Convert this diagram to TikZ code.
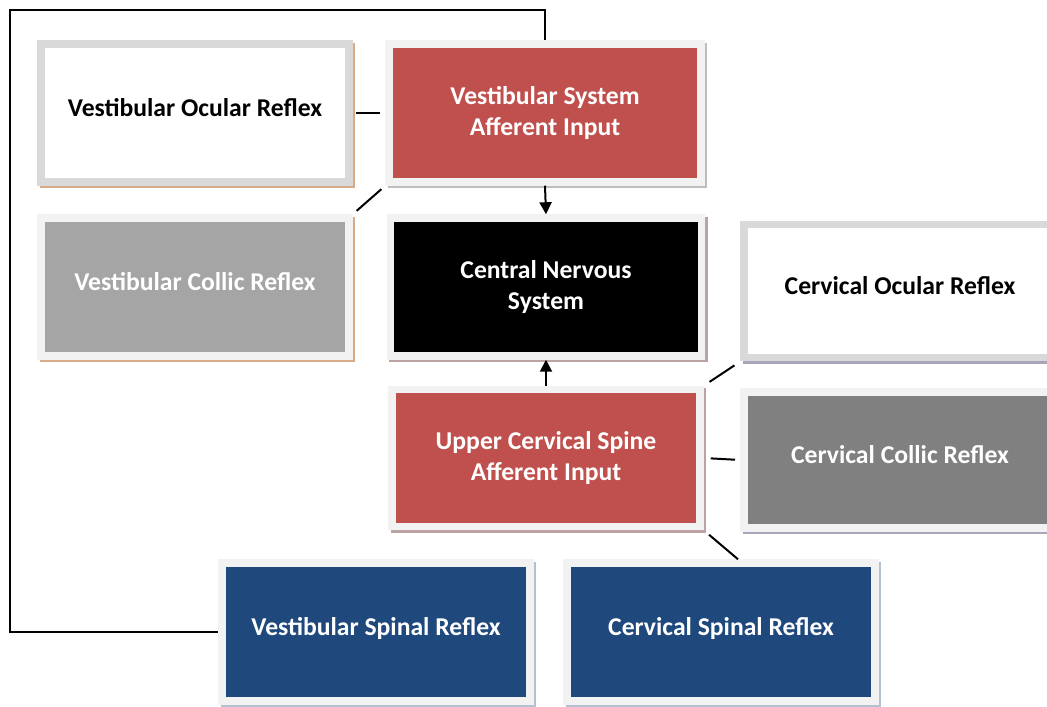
\documentclass[tikz,border=0pt]{standalone}
\usepackage{fontspec}
\setmainfont{Carlito}
\usetikzlibrary{shadows,calc,arrows.meta}
\usepackage{xcolor}

\definecolor{redbox}{HTML}{C0504D}
\definecolor{bluebox}{HTML}{1F497D}
\definecolor{lightgraybox}{HTML}{A5A5A5}
\definecolor{darkgraybox}{HTML}{808080}
\definecolor{framelight}{HTML}{F2F2F2}
\definecolor{framedark}{HTML}{D9D9D9}
\definecolor{shadetan}{HTML}{D7AA88}
\definecolor{shadegray}{HTML}{BDBDBD}
\definecolor{shadepink}{HTML}{BCA3A3}
\definecolor{shadeviolet}{HTML}{ABA5BC}
\definecolor{shadeblue}{HTML}{B5C1D3}

\tikzset{
  box/.style={draw=framelight, line width=0.15cm, minimum width=6.16cm,
    minimum height=2.76cm, inner sep=0pt, align=center,
    font=\fontsize{14.6}{18}\selectfont\bfseries,
    drop shadow={shadow xshift=0.05cm, shadow yshift=-0.05cm,
      fill=#1, draw=#1, line width=0.15cm, opacity=1}},
  oneline/.style={text height=11pt, text depth=6.5pt},
  link/.style={line width=0.04cm, black}
}

\begin{document}
\begin{tikzpicture}[x=0.02cm, y=-0.02cm]
\useasboundingbox (0,0) rectangle (1047,706);
\clip (0,0) rectangle (1047,706);

% vestibular side
\node[box=shadetan, oneline, draw=framedark, fill=white] (vor) at (195,113) {Vestibular Ocular Reflex};
\node[box=shadetan, oneline, fill=lightgraybox, text=white] (vcr) at (195,287) {Vestibular Collic Reflex};
\node[box=shadegray, fill=redbox, text=white, minimum width=6.24cm] (vsai) at (545,113) {Vestibular System\\Afferent Input};

% centre
\node[box=shadepink, fill=black, text=white, minimum width=6.22cm] (cns) at (546,287) {Central Nervous\\System};
\node[box=shadepink, fill=redbox, text=white, minimum height=2.74cm] (ucsai) at (546,458) {Upper Cervical Spine\\Afferent Input};

% cervical side
\node[box=shadeviolet, oneline, draw=framedark, fill=white, minimum width=6.24cm, minimum height=2.67cm] (cor) at (900,291) {Cervical Ocular Reflex};
\node[box=shadeviolet, oneline, fill=darkgraybox, text=white, minimum width=6.24cm, minimum height=2.72cm] (ccr) at (900,460) {Cervical Collic Reflex};

% spinal reflexes
\node[box=shadeblue, oneline, fill=bluebox, text=white] (vspr) at (376,632) {Vestibular Spinal Reflex};
\node[box=shadeblue, oneline, fill=bluebox, text=white] (cspr) at (721,632) {Cervical Spinal Reflex};

\coordinate (corner) at (10,10);

\draw[link, shorten <=2, shorten >=3] (vor.east) -- (vsai.west);
\draw[link, shorten <=3, shorten >=3] (vsai.south west) -- (vcr.north east);
\draw[link, -{Triangle[length=0.24cm, width=0.24cm]}] (vsai.south) -- (cns.north);
\draw[link, -{Triangle[length=0.24cm, width=0.24cm]}] (ucsai.north) -- (cns.south);
\draw[link, shorten <=4, shorten >=4] (ucsai.north east) -- (cor.south west);
\draw[link, shorten <=4, shorten >=3] (ucsai.east) -- (ccr.west);
\draw[link, shorten <=4] (ucsai.south east) -- ($(cspr.north)+(17,0)$);
\draw[link] (vsai.north) |- (corner) |- (vspr.west);

\end{tikzpicture}
\end{document}
